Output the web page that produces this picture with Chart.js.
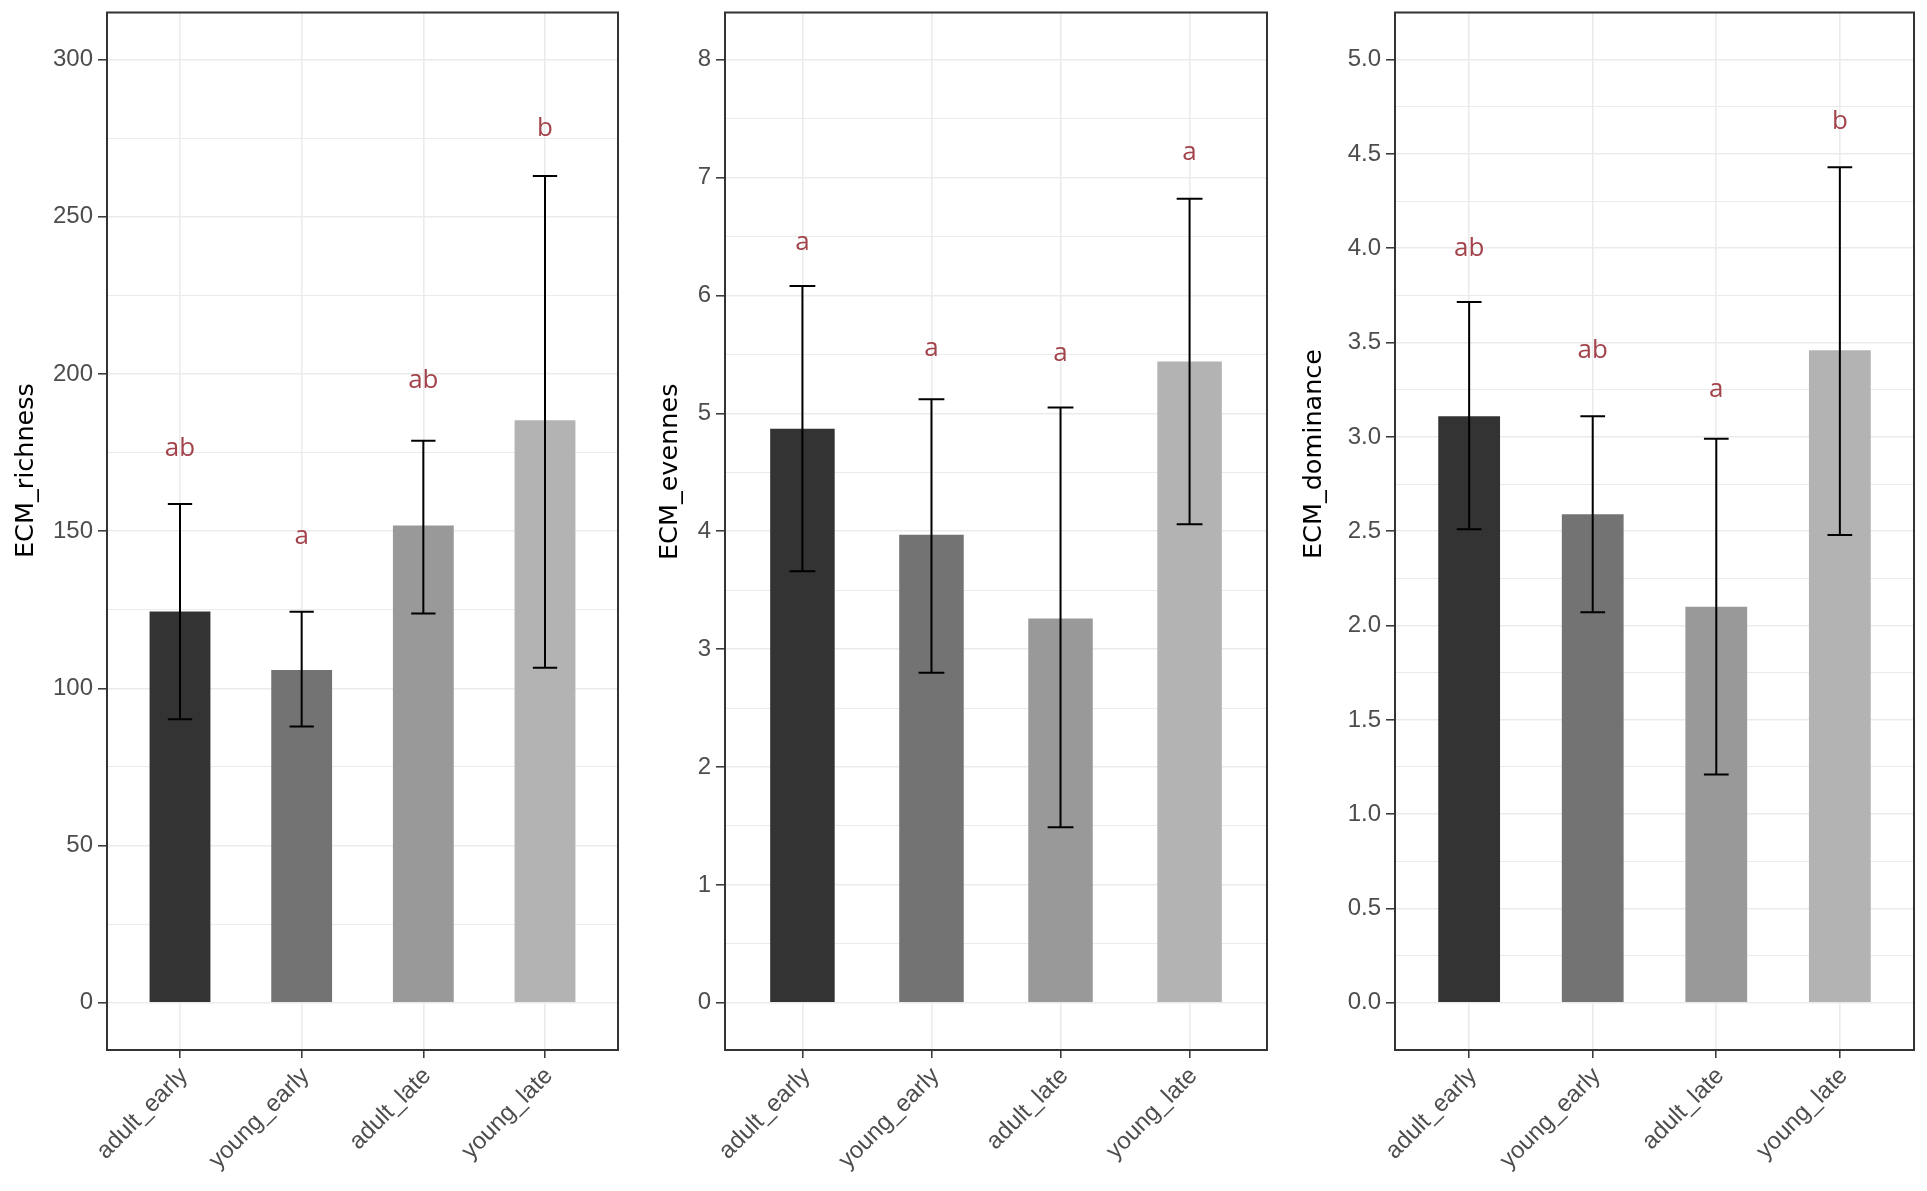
<!DOCTYPE html>
<html lang="en">
<head>
<meta charset="UTF-8">
<title>ECM richness / evenness / dominance</title>
<script src="https://cdn.jsdelivr.net/npm/chart.js"></script>
<style>
  html, body { margin: 0; padding: 0; background: #fff; }
  #page { position: relative; width: 1927px; height: 1191px; overflow: hidden; background: #fff; }
  canvas { position: absolute; }
</style>
</head>
<body>
<div id="page">
  <canvas id="richness"></canvas>
  <canvas id="evenness"></canvas>
  <canvas id="dominance"></canvas>
</div>
<script>
const categories = ['adult_early', 'young_early', 'adult_late', 'young_late'];
const barColors = ['#333333', '#737373', '#999999', '#b3b3b3'];

const richnessMean = [124.5, 105.9, 151.8, 185.3];
const richnessLow = [90.2, 87.9, 123.8, 106.6];
const richnessHigh = [158.7, 124.4, 178.8, 263.0];
const richnessLetters = ['ab', 'a', 'ab', 'b'];
const richnessLetterY = [176.4, 148.4, 198.0, 278.2];
const richnessTicks = [0, 50, 100, 150, 200, 250, 300];
const richnessTickLabels = ['0', '50', '100', '150', '200', '250', '300'];
const richnessMinor = [25, 75, 125, 175, 225, 275];

const evennessMean = [4.87, 3.97, 3.26, 5.44];
const evennessLow = [3.66, 2.80, 1.49, 4.06];
const evennessHigh = [6.08, 5.12, 5.05, 6.82];
const evennessLetters = ['a', 'a', 'a', 'a'];
const evennessLetterY = [6.45, 5.55, 5.51, 7.21];
const evennessTicks = [0, 1, 2, 3, 4, 5, 6, 7, 8];
const evennessTickLabels = ['0', '1', '2', '3', '4', '5', '6', '7', '8'];
const evennessMinor = [0.5, 1.5, 2.5, 3.5, 4.5, 5.5, 6.5, 7.5];

const dominanceMean = [3.11, 2.59, 2.10, 3.46];
const dominanceLow = [2.51, 2.07, 1.21, 2.48];
const dominanceHigh = [3.715, 3.11, 2.99, 4.43];
const dominanceLetters = ['ab', 'ab', 'a', 'b'];
const dominanceLetterY = [4.00, 3.46, 3.25, 4.67];
const dominanceTicks = [0, 0.5, 1, 1.5, 2, 2.5, 3, 3.5, 4, 4.5, 5];
const dominanceTickLabels = ['0.0', '0.5', '1.0', '1.5', '2.0', '2.5', '3.0', '3.5', '4.0', '4.5', '5.0'];
const dominanceMinor = [0.25, 0.75, 1.25, 1.75, 2.25, 2.75, 3.25, 3.75, 4.25, 4.75];

const TICK_FONT = { family: '"Liberation Sans", Arial, sans-serif', size: 24 };
const TICK_COLOR = '#4d4d4d';
const LETTER_COLOR = '#a3434b';

function makePanel(id, p) {
  const canvas = document.getElementById(id);
  const offsetTop = 20;
  const padRight = 30;
  canvas.width = p.right - p.canvasLeft + padRight;
  canvas.height = 1191 + offsetTop;
  canvas.style.left = p.canvasLeft + 'px';
  canvas.style.top = -offsetTop + 'px';

  const extras = {
    id: 'extras_' + id,
    afterDatasetsDraw(chart) {
      const ctx = chart.ctx;
      const xs = chart.scales.x, ys = chart.scales.y;
      ctx.save();
      ctx.strokeStyle = '#000';
      ctx.lineWidth = 2;
      p.low.forEach((lo, i) => {
        const x = xs.getPixelForValue(i);
        const x0 = xs.getPixelForValue(i - 0.1), x1 = xs.getPixelForValue(i + 0.1);
        const yLo = ys.getPixelForValue(lo), yHi = ys.getPixelForValue(p.high[i]);
        ctx.beginPath();
        ctx.moveTo(x, yLo); ctx.lineTo(x, yHi);
        ctx.moveTo(x0, yLo); ctx.lineTo(x1, yLo);
        ctx.moveTo(x0, yHi); ctx.lineTo(x1, yHi);
        ctx.stroke();
      });
      ctx.fillStyle = LETTER_COLOR;
      ctx.font = '26px "Open Sans", sans-serif';
      ctx.textAlign = 'center';
      ctx.textBaseline = 'middle';
      p.letters.forEach((t, i) => {
        ctx.fillText(t, xs.getPixelForValue(i), ys.getPixelForValue(p.letterY[i]));
      });
      ctx.restore();
    },
    afterDraw(chart) {
      const ctx = chart.ctx;
      const a = chart.chartArea;
      ctx.save();
      ctx.strokeStyle = '#333333';
      ctx.lineWidth = 2;
      ctx.strokeRect(a.left, a.top, a.right - a.left, a.bottom - a.top);
      ctx.translate(p.titleX - p.canvasLeft, p.titleY + offsetTop);
      ctx.rotate(-Math.PI / 2);
      ctx.fillStyle = '#000';
      ctx.font = '25.5px "DejaVu Sans", sans-serif';
      ctx.textAlign = 'left';
      ctx.textBaseline = 'alphabetic';
      ctx.fillText(p.title, 0, 0);
      ctx.restore();
    }
  };

  return new Chart(canvas, {
    type: 'bar',
    data: {
      datasets: [{
        data: p.mean.map((v, i) => ({ x: i, y: v })),
        backgroundColor: barColors,
        borderWidth: 0,
        barPercentage: 0.5,
        categoryPercentage: 1
      }]
    },
    options: {
      responsive: false,
      animation: false,
      devicePixelRatio: 1,
      layout: { padding: { top: 12.5 + offsetTop, right: padRight, bottom: 0, left: 0 } },
      plugins: { legend: { display: false }, tooltip: { enabled: false } },
      scales: {
        x: {
          type: 'linear',
          min: -0.6,
          max: 3.6,
          offset: false,
          afterBuildTicks: s => { s.ticks = categories.map((c, i) => ({ value: i })); },
          afterFit: s => { s.height = 1191 - 1050; },
          border: { display: false },
          grid: { offset: false, color: '#ebebeb', lineWidth: 1.6, tickLength: 8, tickColor: '#333333', tickWidth: 1.5 },
          ticks: {
            autoSkip: false,
            minRotation: 45,
            maxRotation: 45,
            padding: 4,
            labelOffset: 4,
            font: TICK_FONT,
            color: TICK_COLOR,
            callback: v => categories[v]
          }
        },
        y: {
          min: p.min,
          max: p.max,
          afterBuildTicks: s => {
            s.ticks = p.ticks.map(v => ({ value: v }))
              .concat(p.minor.map(v => ({ value: v, minor: true })))
              .sort((a, b) => a.value - b.value);
          },
          afterFit: s => { s.width = p.left - p.canvasLeft; },
          border: { display: false },
          grid: {
            color: '#ebebeb',
            lineWidth: c => (c.tick && c.tick.minor ? 1.1 : 1.6),
            tickLength: 9,
            tickWidth: 1.5,
            tickColor: c => (c.tick && c.tick.minor ? 'rgba(0,0,0,0)' : '#333333')
          },
          ticks: {
            autoSkip: false,
            padding: 5,
            font: TICK_FONT,
            color: TICK_COLOR,
            callback: (v, i, t) => (t[i].minor ? '' : p.tickLabels[p.ticks.indexOf(v)])
          }
        }
      }
    },
    plugins: [extras]
  });
}

makePanel('richness', {
  canvasLeft: 0, left: 107, right: 618, min: -15, max: 315,
  mean: richnessMean, low: richnessLow, high: richnessHigh,
  letters: richnessLetters, letterY: richnessLetterY,
  ticks: richnessTicks, tickLabels: richnessTickLabels, minor: richnessMinor,
  title: 'ECM_richness', titleX: 33, titleY: 558
});
makePanel('evenness', {
  canvasLeft: 640, left: 725, right: 1267, min: -0.4, max: 8.4,
  mean: evennessMean, low: evennessLow, high: evennessHigh,
  letters: evennessLetters, letterY: evennessLetterY,
  ticks: evennessTicks, tickLabels: evennessTickLabels, minor: evennessMinor,
  title: 'ECM_evennes', titleX: 677, titleY: 560
});
makePanel('dominance', {
  canvasLeft: 1290, left: 1395, right: 1914, min: -0.25, max: 5.25,
  mean: dominanceMean, low: dominanceLow, high: dominanceHigh,
  letters: dominanceLetters, letterY: dominanceLetterY,
  ticks: dominanceTicks, tickLabels: dominanceTickLabels, minor: dominanceMinor,
  title: 'ECM_dominance', titleX: 1321, titleY: 559
});
</script>
</body>
</html>
